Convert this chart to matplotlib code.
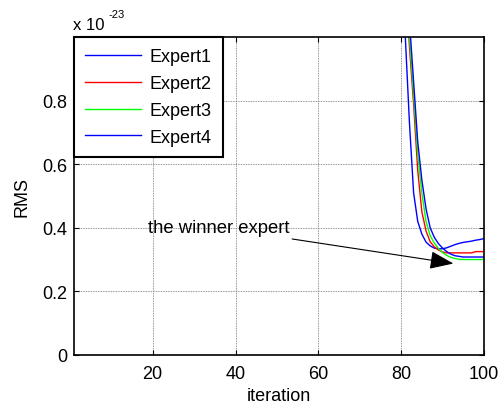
import numpy as np
import matplotlib
matplotlib.use("Agg")
import matplotlib.pyplot as plt

plt.rcParams['font.family'] = ['Liberation Sans', 'DejaVu Sans']

# values in units of 1e-23
iters_e1 = [80, 81, 82, 83, 84, 85, 86, 87, 88, 89, 90, 91, 92, 93, 94, 95, 96, 97, 98, 99, 100]
expert1 = [1.30, 1.00, 0.73, 0.51, 0.42, 0.38, 0.355, 0.343, 0.336, 0.334, 0.334, 0.337,
           0.342, 0.347, 0.351, 0.354, 0.356, 0.358, 0.361, 0.363, 0.366]

iters = [80, 81, 82, 83, 84, 85, 86, 87, 88, 89, 90, 91, 92, 93, 94, 95, 96, 97, 98, 99, 100]
expert2 = [1.50, 1.20, 0.97, 0.79, 0.58, 0.45, 0.39, 0.356, 0.34, 0.33, 0.324, 0.321,
           0.321, 0.321, 0.321, 0.321, 0.321, 0.321, 0.325, 0.325, 0.325]
expert3 = [1.60, 1.25, 1.00, 0.82, 0.63, 0.51, 0.42, 0.375, 0.352, 0.335, 0.322, 0.313,
           0.307, 0.303, 0.301, 0.300, 0.300, 0.300, 0.300, 0.300, 0.300]
expert4 = [1.70, 1.30, 1.05, 0.86, 0.67, 0.55, 0.46, 0.40, 0.37, 0.35, 0.336, 0.325,
           0.317, 0.312, 0.310, 0.308, 0.308, 0.308, 0.308, 0.308, 0.308]

labels = ['Expert1', 'Expert2', 'Expert3', 'Expert4']
colors = ['#0000ff', '#ff0000', '#00ff00', '#0000ff']

xticks = [20, 40, 60, 80, 100]
yticks = [0, 0.2, 0.4, 0.6, 0.8]
yticklabels = ['0', '0.2', '0.4', '0.6', '0.8']

FS = 13

fig = plt.figure(figsize=(5.0, 4.1), dpi=100)
ax = fig.add_axes([0.148, 0.132, 0.82, 0.775])

series = [(iters_e1, expert1), (iters, expert2), (iters, expert3), (iters, expert4)]
for (x, y), lab, c in zip(series, labels, colors):
    ax.plot(x, y, color=c, lw=1.0, label=lab)

ax.set_xlim(1, 100)
ax.set_ylim(0, 1.0)
ax.set_xticks(xticks)
ax.set_yticks(yticks)
ax.set_yticklabels(yticklabels)
ax.tick_params(direction='in', length=3.5, width=0.8, top=True, right=True,
               labelsize=FS, pad=5)
ax.tick_params(axis='x', pad=7)
ax.grid(True, linestyle=(0, (1, 1)), color='0.45', linewidth=0.6)
for s in ax.spines.values():
    s.set_linewidth(1.2)

ax.set_xlabel('iteration', fontsize=FS, labelpad=4)
ax.set_ylabel('RMS', fontsize=FS, labelpad=8)

ax.text(-0.003, 1.027, 'x 10', transform=ax.transAxes,
        fontsize=12, ha='left', va='baseline')
ax.text(0.083, 1.062, '-23', transform=ax.transAxes,
        fontsize=8, ha='left', va='baseline')

leg = ax.legend(loc='upper left', borderaxespad=0, fancybox=False, framealpha=1,
                edgecolor='black', fontsize=FS, handlelength=3.1, handletextpad=0.5,
                labelspacing=0.55, borderpad=0.6)
leg.get_frame().set_linewidth(1.5)

ax.annotate('the winner expert', xy=(92.6, 0.2875), xytext=(53.0, 0.40),
            fontsize=13.3, ha='right', va='center',
            arrowprops=dict(arrowstyle='-|>,head_length=1.1,head_width=0.42',
                            color='black', lw=0.8, shrinkA=0, shrinkB=0))

fig.savefig('out.png', dpi=100)
